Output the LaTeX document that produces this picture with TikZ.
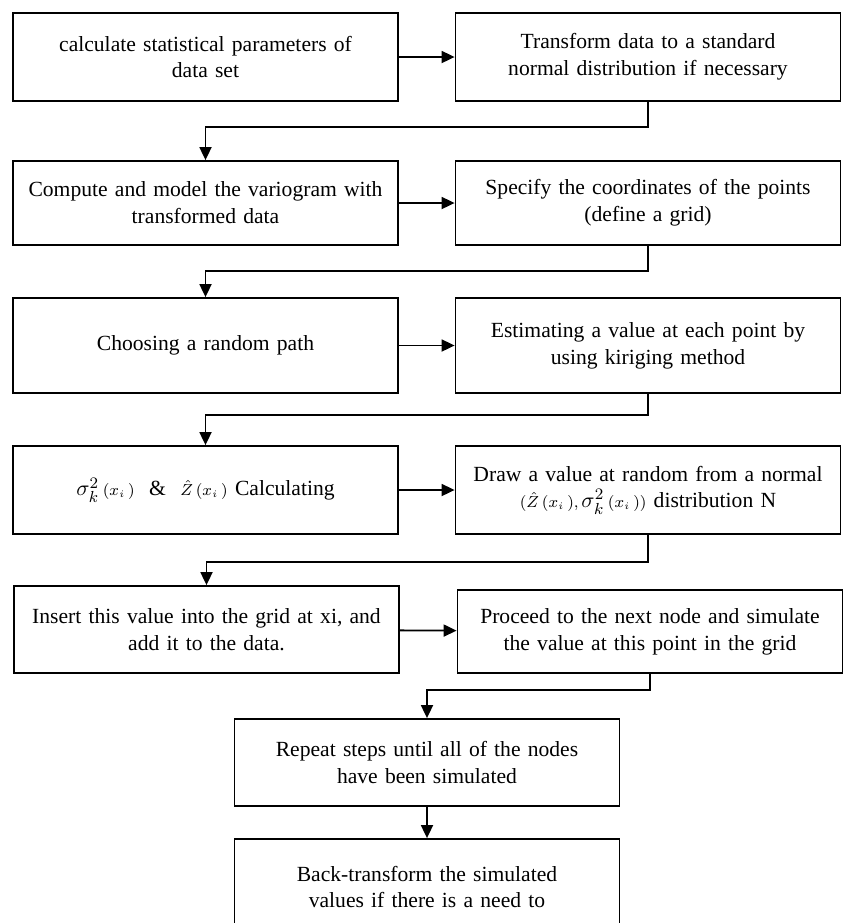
\documentclass[tikz,border=0pt]{standalone}
\usepackage{fontspec}
\setmainfont{Liberation Serif}
\usetikzlibrary{arrows.meta}
\tikzset{>={Triangle[length=6.5pt,width=6pt]},
  block/.style={draw,line width=0.9pt,minimum width=192.5pt,text width=188pt,align=center,inner sep=0pt,font=\fontsize{10.8}{13.4}\selectfont},
  link/.style={->,line width=0.9pt}}

\begin{document}
\begin{tikzpicture}[x=0.5pt,y=-0.5pt]
    \useasboundingbox (0,0) rectangle (844,923);
    % first row
    \node[block,minimum height=44pt] (stats) at (205.5,57) {calculate statistical parameters of\\data set};
    \node[block,minimum height=44pt] (normal) at (648,57) {Transform data to a standard\\normal distribution if necessary};
    % second row
    \node[block,minimum height=42pt] (vario) at (205.5,203) {Compute and model the variogram with\\transformed data};
    \node[block,minimum height=42pt] (grid) at (648,203) {Specify the coordinates of the points\\(define a grid)};
    % third row
    \node[block,minimum height=47.5pt] (path) at (205.5,345.5) {Choosing a random path};
    \node[block,minimum height=47.5pt] (krig) at (648,345.5) {Estimating a value at each point by\\using kiriging method};
    % fourth row
    \node[block,minimum height=44pt] (calc) at (205.5,490) {$\sigma^{2}_{k}\,{\scriptstyle(x_{i}\,)}\ \ \mbox{\&}\ \ {\scriptstyle\hat{Z}\,(x_{i}\,)}$ Calculating};
    \node[block,minimum height=44pt] (draw) at (648,490) {Draw a value at random from a normal\\${\scriptstyle(\hat{Z}\,(x_{i}\,),\,}\sigma^{2}_{k}\,{\scriptstyle(x_{i}\,))}$ distribution N};
    % fifth row
    \node[block,minimum height=43.5pt] (insert) at (206.5,629.5) {Insert this value into the grid at xi, and\\add it to the data.};
    \node[block,minimum height=41.5pt] (next) at (650,631.5) {Proceed to the next node and simulate\\the value at this point in the grid};
    % last two boxes
    \node[block,minimum height=43.5pt] (repeat) at (427,762.5) {Repeat steps until all of the nodes\\have been simulated};
    \node[block,minimum height=48pt] (back) at (427,887) {Back-transform the simulated\\values if there is a need to};

    \draw[link] (stats) -- (normal);
    \draw[link] (normal.south) -- ++(0,25) -| (vario.north);
    \draw[link] (vario) -- (grid);
    \draw[link] (grid.south) -- ++(0,25) -| (path.north);
    \draw[link] (path) -- (krig);
    \draw[link] (krig.south) -- ++(0,21) -| (calc.north);
    \draw[link] (calc) -- (draw);
    \draw[link] (draw.south) -- ++(0,27) -| (insert.north);
    \draw[link] (insert) -- (next);
    \draw[link] (next.south) -- ++(0,16) -| (repeat.north);
    \draw[link] (repeat) -- (back);
\end{tikzpicture}
\end{document}
